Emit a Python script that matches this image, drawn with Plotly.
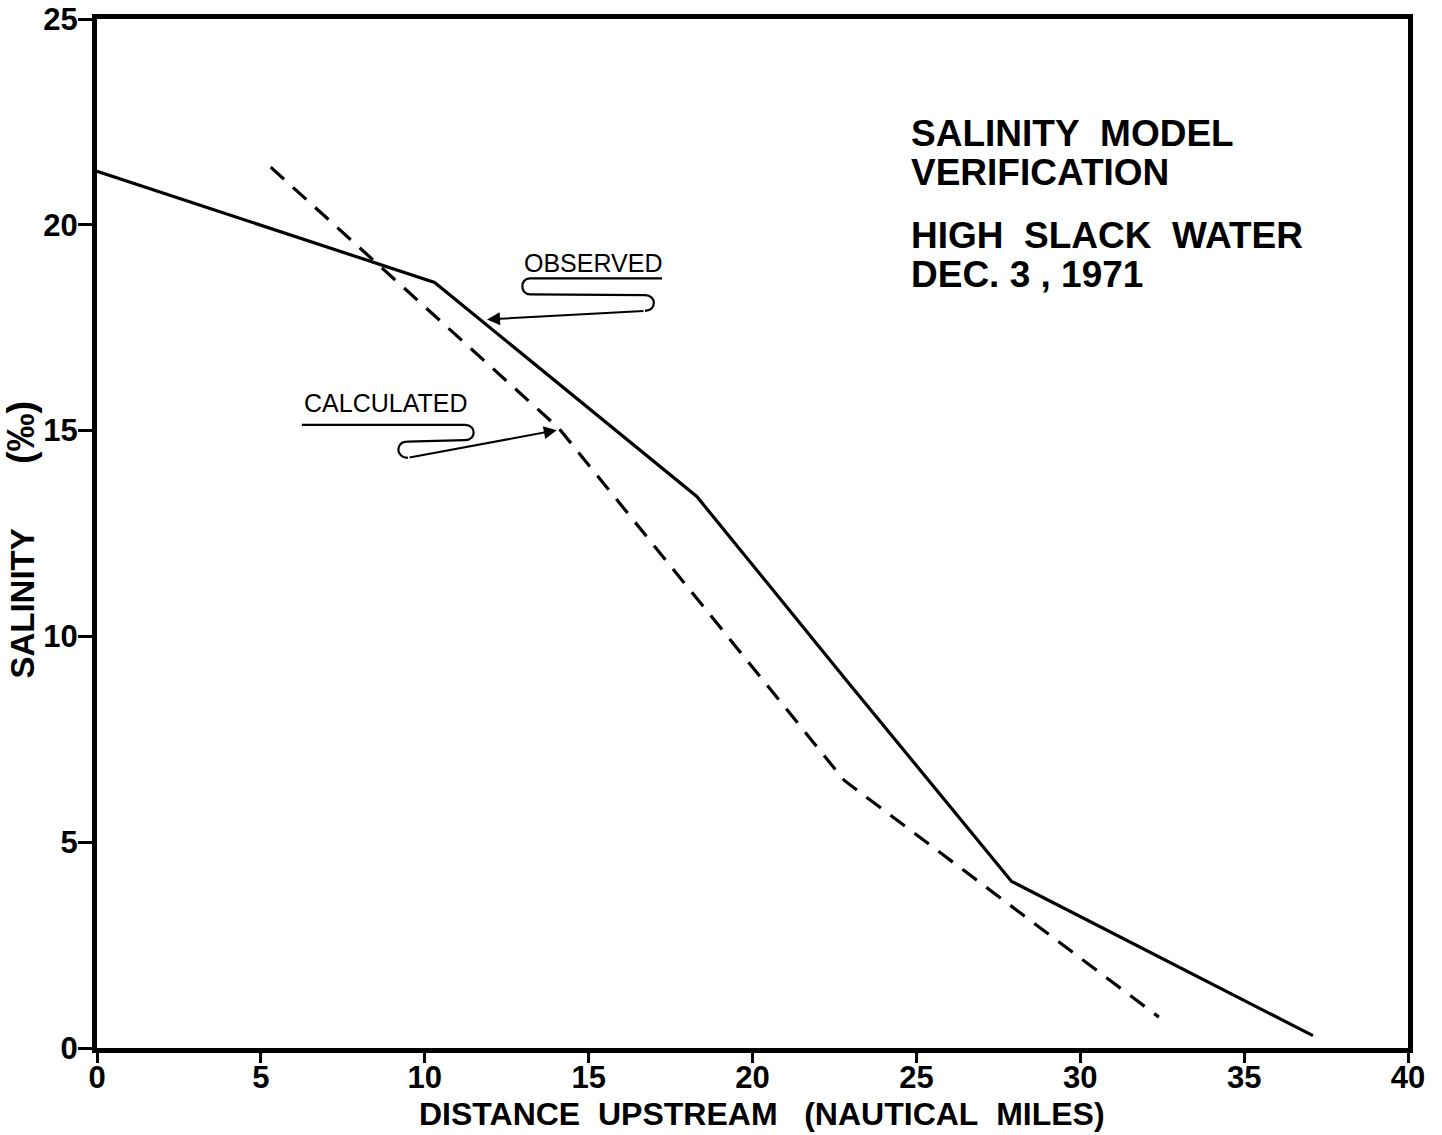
import plotly.graph_objects as go

# Salinity profiles along the estuary, high slack water, Dec. 3, 1971
obs_dist = [0.0, 10.3, 18.3, 22.9, 27.9, 37.1]
obs_sal = [21.3, 18.6, 13.4, 8.9, 4.05, 0.3]

calc_dist = [5.3, 14.1, 22.8, 32.4]
calc_sal = [21.4, 15.05, 6.5, 0.75]

x_ticks = [0, 5, 10, 15, 20, 25, 30, 35, 40]
y_ticks = [0, 5, 10, 15, 20, 25]

FONT = "Liberation Sans"
NB = "\u00a0"

fig = go.Figure()

fig.add_trace(go.Scatter(
    x=obs_dist, y=obs_sal, mode="lines", name="OBSERVED",
    line=dict(color="black", width=3.2),
))
fig.add_trace(go.Scatter(
    x=calc_dist, y=calc_sal, mode="lines", name="CALCULATED",
    line=dict(color="black", width=3.2, dash="18px,12px"),
))


def leader(points):
    """Build an SVG path (data units) from a list of ('M'|'L'|'C', coords)."""
    parts = []
    for cmd, coords in points:
        parts.append(cmd + " " + " ".join(f"{a},{b}" for a, b in coords))
    return " ".join(parts)


# hand-drawn looping leader under "OBSERVED"
obs_leader = leader([
    ("M", [(17.24, 18.70)]),
    ("L", [(13.21, 18.70)]),
    ("C", [(12.90, 18.70), (12.90, 18.31), (13.21, 18.31)]),
    ("L", [(16.72, 18.29)]),
    ("C", [(17.08, 18.29), (17.08, 17.91), (16.72, 17.91)]),
])
# hand-drawn looping leader under "CALCULATED"
calc_leader = leader([
    ("M", [(6.25, 15.14)]),
    ("L", [(11.23, 15.14)]),
    ("C", [(11.58, 15.14), (11.58, 14.77), (11.23, 14.77)]),
    ("L", [(9.46, 14.73)]),
    ("C", [(9.10, 14.73), (9.10, 14.34), (9.49, 14.34)]),
])
for p in (obs_leader, calc_leader):
    fig.add_shape(type="path", path=p, xref="x", yref="y",
                  line=dict(color="black", width=2.2))

# arrows finishing the leaders
fig.add_annotation(x=11.90, y=17.70, ax=16.72, ay=17.91, xref="x", yref="y",
                   axref="x", ayref="y", text="", showarrow=True,
                   arrowhead=2, arrowsize=1.3, arrowwidth=2, arrowcolor="black")
fig.add_annotation(x=14.03, y=15.01, ax=9.49, ay=14.34, xref="x", yref="y",
                   axref="x", ayref="y", text="", showarrow=True,
                   arrowhead=2, arrowsize=1.3, arrowwidth=2, arrowcolor="black")

# series labels
fig.add_annotation(x=15.13, y=19.06, text="OBSERVED", showarrow=False,
                   xanchor="center", yanchor="middle",
                   font=dict(family=FONT, size=25, color="black"))
fig.add_annotation(x=8.79, y=15.67, text="CALCULATED", showarrow=False,
                   xanchor="center", yanchor="middle",
                   font=dict(family=FONT, size=25, color="black"))

# title block
title_lines = [
    (22.22, f"SALINITY{NB}{NB}MODEL"),
    (21.28, "VERIFICATION"),
    (19.73, f"HIGH{NB}{NB}SLACK{NB}{NB}WATER"),
    (18.80, "DEC. 3 , 1971"),
]
for yv, txt in title_lines:
    fig.add_annotation(x=24.78, y=yv, text=txt, showarrow=False,
                       xanchor="left", yanchor="middle",
                       font=dict(family=FONT, size=37, color="black",
                                 weight="bold"))

# axis titles
fig.add_annotation(
    x=0.5073, y=-0.0645, xref="paper", yref="paper",
    text=f"DISTANCE{NB}{NB}UPSTREAM{NB}{NB}{NB}(NAUTICAL{NB}{NB}MILES)",
    showarrow=False, xanchor="center", yanchor="middle",
    font=dict(family=FONT, size=32, color="black", weight="bold"),
)
fig.add_annotation(
    x=-0.058, y=0.357, xref="paper", yref="paper", textangle=-90,
    text=f"SALINITY{NB * 7}<span style='font-size:38px'>(\u2030)</span>",
    showarrow=False, xanchor="center", yanchor="bottom",
    font=dict(family=FONT, size=33, color="black", weight="bold"),
)

axis_common = dict(
    showline=True, mirror=True, linecolor="black", linewidth=5,
    ticks="outside", tickcolor="black", tickwidth=3,
    showgrid=False, zeroline=False, automargin=False,
    tickfont=dict(family=FONT, size=31, color="black", weight="bold"),
)

fig.update_xaxes(
    range=[0, 40], tickvals=x_ticks, ticktext=[str(v) for v in x_ticks],
    ticklen=10, ticklabelstandoff=-12,
    **axis_common,
)
fig.update_yaxes(
    range=[0, 25], tickvals=y_ticks, ticktext=[str(v) for v in y_ticks],
    ticklen=14, ticklabelstandoff=-6,
    **axis_common,
)

fig.update_layout(
    width=1442, height=1135,
    margin=dict(l=97, r=34, t=19, b=87),
    paper_bgcolor="white", plot_bgcolor="white",
    showlegend=False,
)

fig.write_html("out.html")
